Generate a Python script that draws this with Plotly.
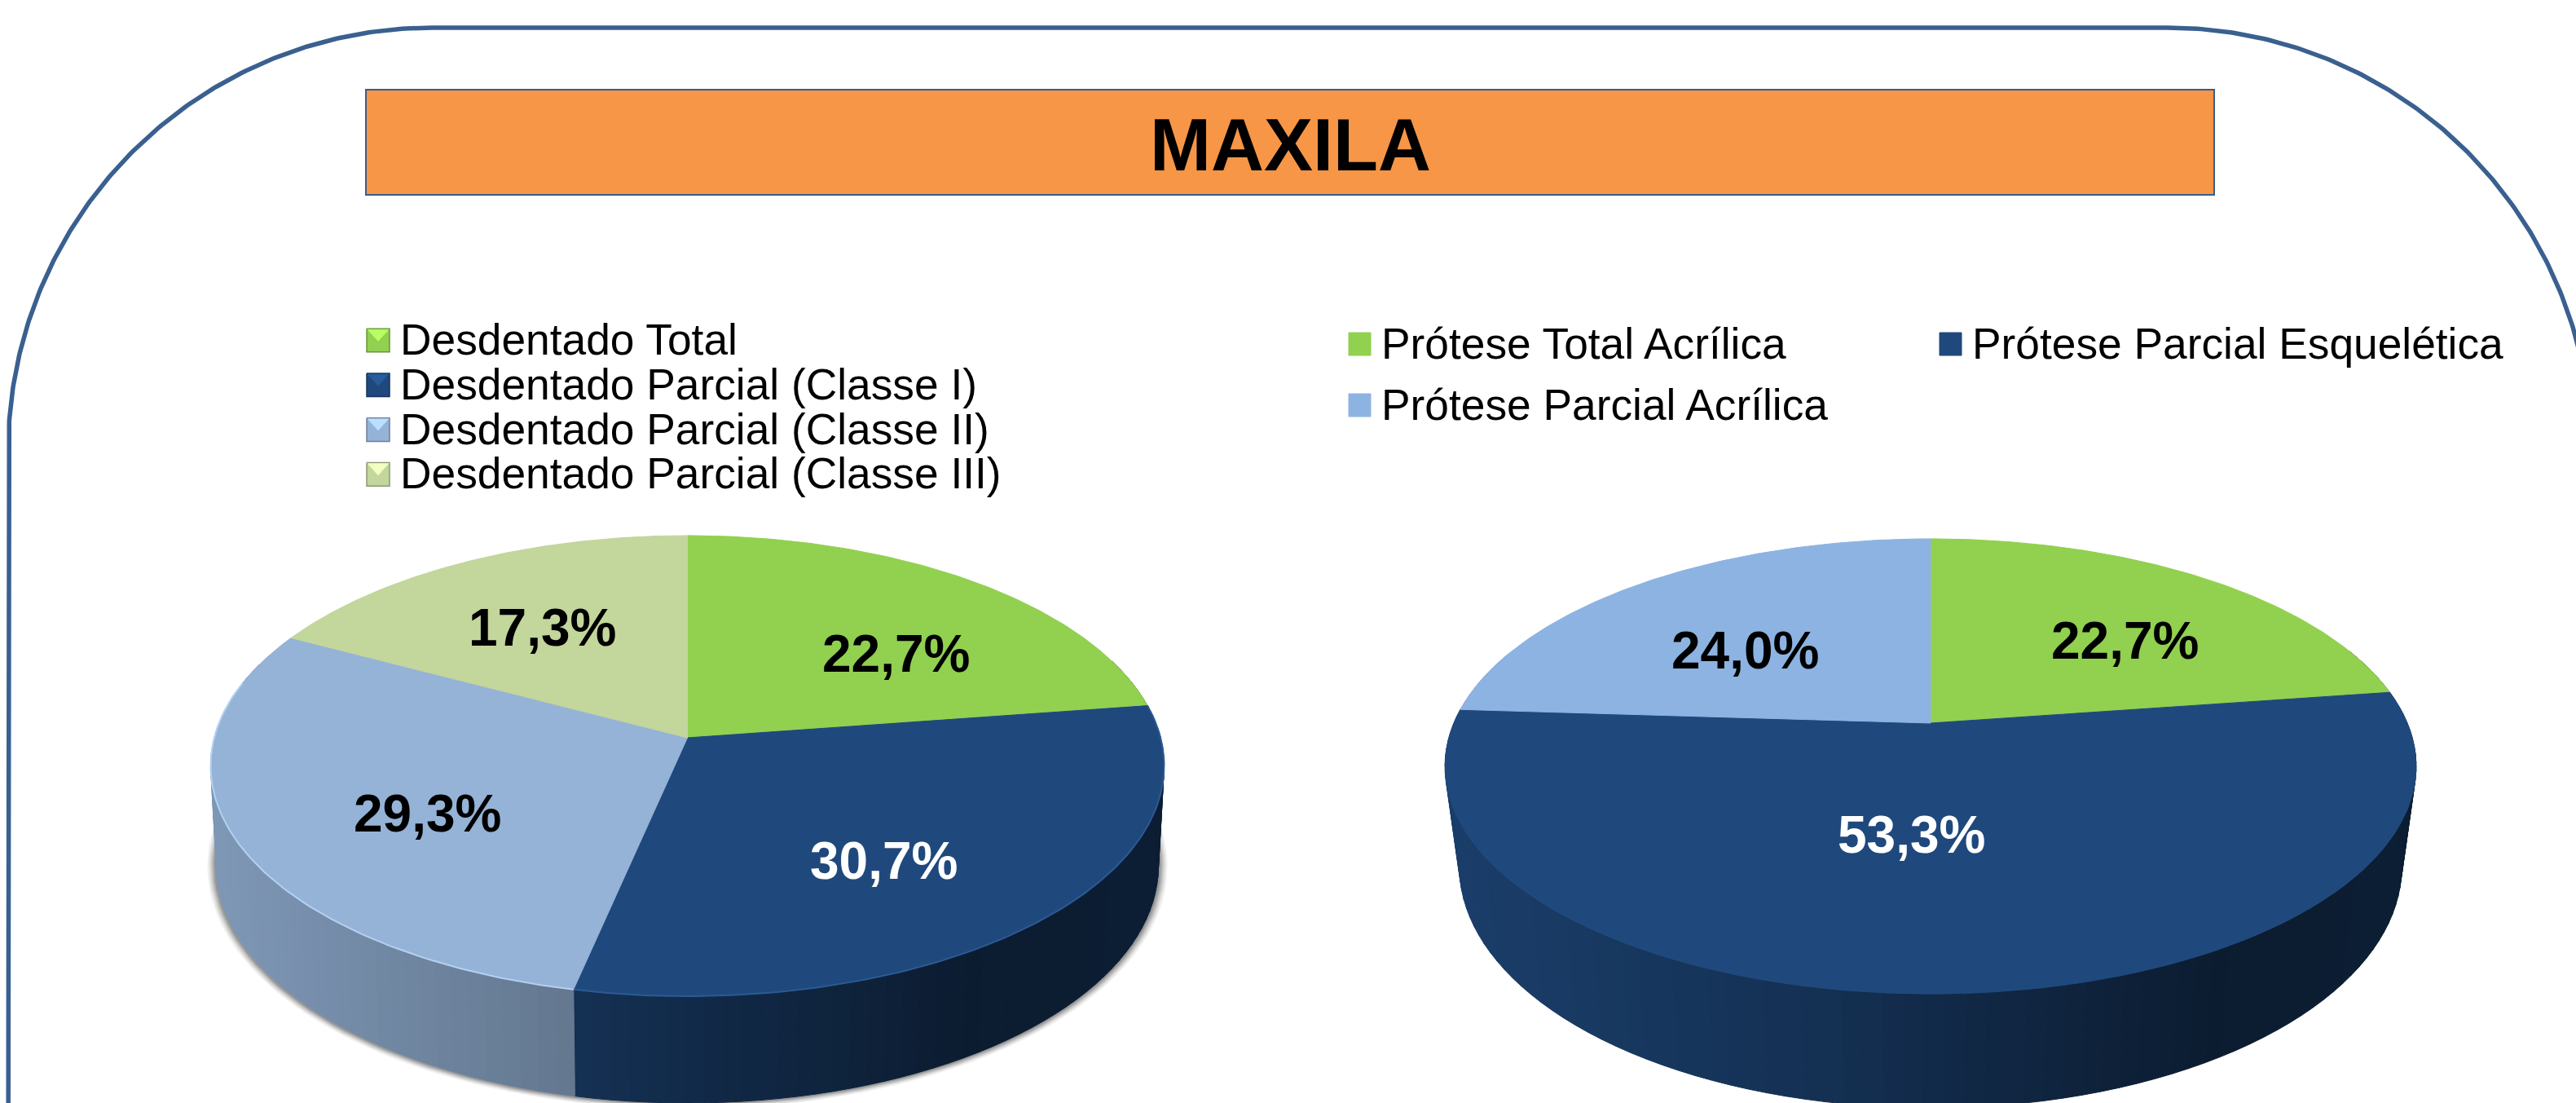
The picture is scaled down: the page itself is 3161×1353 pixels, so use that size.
import numpy as np
import plotly.graph_objects as go

# ---- data ----
left_categories = ["Desdentado Total", "Desdentado Parcial (Classe I)",
                   "Desdentado Parcial (Classe II)", "Desdentado Parcial (Classe III)"]
left_values = [22.7, 30.7, 29.3, 17.3]
right_categories = ["Prótese Total Acrílica", "Prótese Parcial Esquelética", "Prótese Parcial Acrílica"]
right_values = [22.7, 53.3, 24.0]
title_text = "MAXILA"

# ---- styles / layout ----
W, H = 3161, 1353
GREEN, NAVY, SKY, SAGE, SKY2 = "#92D050", "#1F497D", "#95B3D7", "#C3D69B", "#8DB3E2"
left_colors = [GREEN, NAVY, SKY, SAGE]
right_colors = [GREEN, NAVY, SKY2]
left_rims = [None, "#2C5A94", "#B4D0F2", None]
left_label_colors = ["black", "white", "black", "black"]
right_label_colors = ["black", "white", "black"]
left_label_pos = [(1099, 802), (1084, 1056), (524, 998), (665, 770)]
right_label_pos = [(2607, 786), (2345, 1024), (2141, 798)]
left_geom = dict(cx=843.5, top=(905, 580.6, 278.3, 0.122), low=(1026.5, 573.7, 286.7, 0.122))
right_geom = dict(cx=2369, top=(887, 585, 269, 0.19), low=(1006.8, 567.6, 285.3, 0.19))
FONT = "Liberation Sans"


def rgb(h):
    return np.array([int(h[i:i + 2], 16) for i in (1, 3, 5)], float)


def shade(h, f):
    c = np.clip(rgb(h) * f, 0, 255).astype(int)
    return f"rgb({c[0]},{c[1]},{c[2]})"


def proj(theta, g, key):
    ay, A, B, p = g[key]
    u, v = np.sin(theta), np.cos(theta)
    w = 1 + p * v
    return g["cx"] + A * u / w, ay - B * v / w


fig = go.Figure()


def poly(xs, ys, fill, line=None, lw=1.0):
    fig.add_trace(go.Scatter(x=list(xs), y=list(ys), mode="lines", fill="toself", fillcolor=fill,
                             line=dict(color=line or fill, width=lw), hoverinfo="skip",
                             showlegend=False))


# rounded frame (runs off the right and bottom of the page)
fl, ft, fr, fb, rad = 10, 34, 3180, 1500, 520
a = np.linspace(0, np.pi / 2, 180)
fx = [fl] + list(fl + rad - rad * np.cos(a)) + list(fr - rad + rad * np.sin(a)) + [fr]
fy = [fb] + list(ft + rad - rad * np.sin(a)) + list(ft + rad - rad * np.cos(a)) + [fb]
fig.add_trace(go.Scatter(x=fx, y=fy, mode="lines", line=dict(color="#3A6090", width=5.5),
                         hoverinfo="skip", showlegend=False))


def draw_pie(values, colors, g, shadow, rims=None):
    total = sum(values)
    edges = np.cumsum([0] + list(values)) / total * 2 * np.pi
    if shadow:
        ay, A, B, p = g["low"]
        th = np.linspace(0, 2 * np.pi, 180)
        for grow, alpha in ((11, .07), (9, .09), (7, .12), (5, .16), (3, .2)):
            gg = dict(cx=g["cx"], low=(ay, A + grow, B + grow * .6, p))
            x, y = proj(th, gg, "low")
            poly(x, y, f"rgba(50,50,50,{alpha})", line="rgba(0,0,0,0)", lw=0)
    fx_stops, f_stops = [0, .38, .8, 1], [.85, .67, .39, .42]
    rx = max(proj(np.linspace(0, 2 * np.pi, 361), g, "top")[0]) - g["cx"]
    for i, col in enumerate(colors):
        n = max(2, int((edges[i + 1] - edges[i]) / np.radians(2)))
        t = np.linspace(edges[i], edges[i + 1], n + 1)
        for a0, a1 in zip(t[:-1], t[1:]):
            if np.cos((a0 + a1) / 2) > 0.35:
                continue
            x0, y0 = proj(a0, g, "top")
            x1, y1 = proj(a1, g, "top")
            x2, y2 = proj(a1, g, "low")
            x3, y3 = proj(a0, g, "low")
            frac = (0.5 * (x0 + x1) - (g["cx"] - rx)) / (2 * rx)
            poly([x0, x1, x2, x3, x0], [y0, y1, y2, y3, y0], shade(col, np.interp(frac, fx_stops, f_stops)))
    for i, col in enumerate(colors):
        t = np.linspace(edges[i], edges[i + 1], 120)
        x, y = proj(t, g, "top")
        ay = g["top"][0]
        poly([g["cx"]] + list(x) + [g["cx"]], [ay] + list(y) + [ay], col)
    if rims:
        for i, rim in enumerate(rims):
            if rim is None:
                continue
            t = np.linspace(edges[i], edges[i + 1], 120)
            t = t[np.cos(t) < 0.25]
            x, y = proj(t, g, "top")
            fig.add_trace(go.Scatter(x=x, y=y, mode="lines", line=dict(color=rim, width=2),
                                     hoverinfo="skip", showlegend=False))


draw_pie(left_values, left_colors, left_geom, True, left_rims)
draw_pie(right_values, right_colors, right_geom, False)

annotations = []


def label(x, y, text, size, color="black", bold=False, anchor="center"):
    annotations.append(dict(x=x, y=y, xref="x", yref="y", text=f"<b>{text}</b>" if bold else text,
                            showarrow=False, xanchor=anchor, yanchor="middle", align="left",
                            font=dict(family=FONT, size=size, color=color)))


def pct(v):
    return f"{v:.1f}%".replace(".", ",")


for v, (x, y), c in zip(left_values, left_label_pos, left_label_colors):
    label(x, y, pct(v), 64, c, True)
for v, (x, y), c in zip(right_values, right_label_pos, right_label_colors):
    label(x, y, pct(v), 64, c, True)

# left legend: bevelled keys
lx0, lx1, ly0, ldy, lsz = 450, 478, 417.5, 54.8, 14.3
for i, (name, col) in enumerate(zip(left_categories, left_colors)):
    yc = ly0 + i * ldy
    t, b = yc - lsz, yc + lsz
    mx = (lx0 + lx1) / 2
    poly([lx0, lx1, lx1, lx0, lx0], [t, t, b, b, t], col, line=shade(col, .72), lw=1.5)
    poly([lx0 + 1, lx1 - 1, mx, lx0 + 1], [t + 1, t + 1, yc + 1, t + 1], shade(col, 1.25), lw=0.5)
    label(489, yc - 1, name, 53.3, anchor="left")

# right legend: flat keys, two columns
rk_x = [1655, 2380, 1655]
rk_y = [422, 422, 497]
for name, col, x, y in zip(right_categories, right_colors, rk_x, rk_y):
    poly([x, x + 27, x + 27, x, x], [y - 14, y - 14, y + 14, y + 14, y - 14], col)
    label(x + 38, y - 1, name, 53.3, anchor="left")

# title banner
shapes = [dict(type="rect", xref="x", yref="y", x0=449, x1=2717, y0=110, y1=239,
               fillcolor="#F79646", line=dict(color="#385D8A", width=2), layer="below")]
label(1583, 178, title_text, 90, "black", True)

fig.update_layout(
    width=W, height=H, autosize=False, margin=dict(l=0, r=0, t=0, b=0),
    paper_bgcolor="white", plot_bgcolor="white", showlegend=False,
    xaxis=dict(range=[0, W], visible=False, fixedrange=True),
    yaxis=dict(range=[H, 0], visible=False, fixedrange=True),
    shapes=shapes, annotations=annotations,
)
fig.write_html("out.html", config={"displayModeBar": False},
               post_script="document.body.style.margin='0';document.body.style.overflow='hidden';")
